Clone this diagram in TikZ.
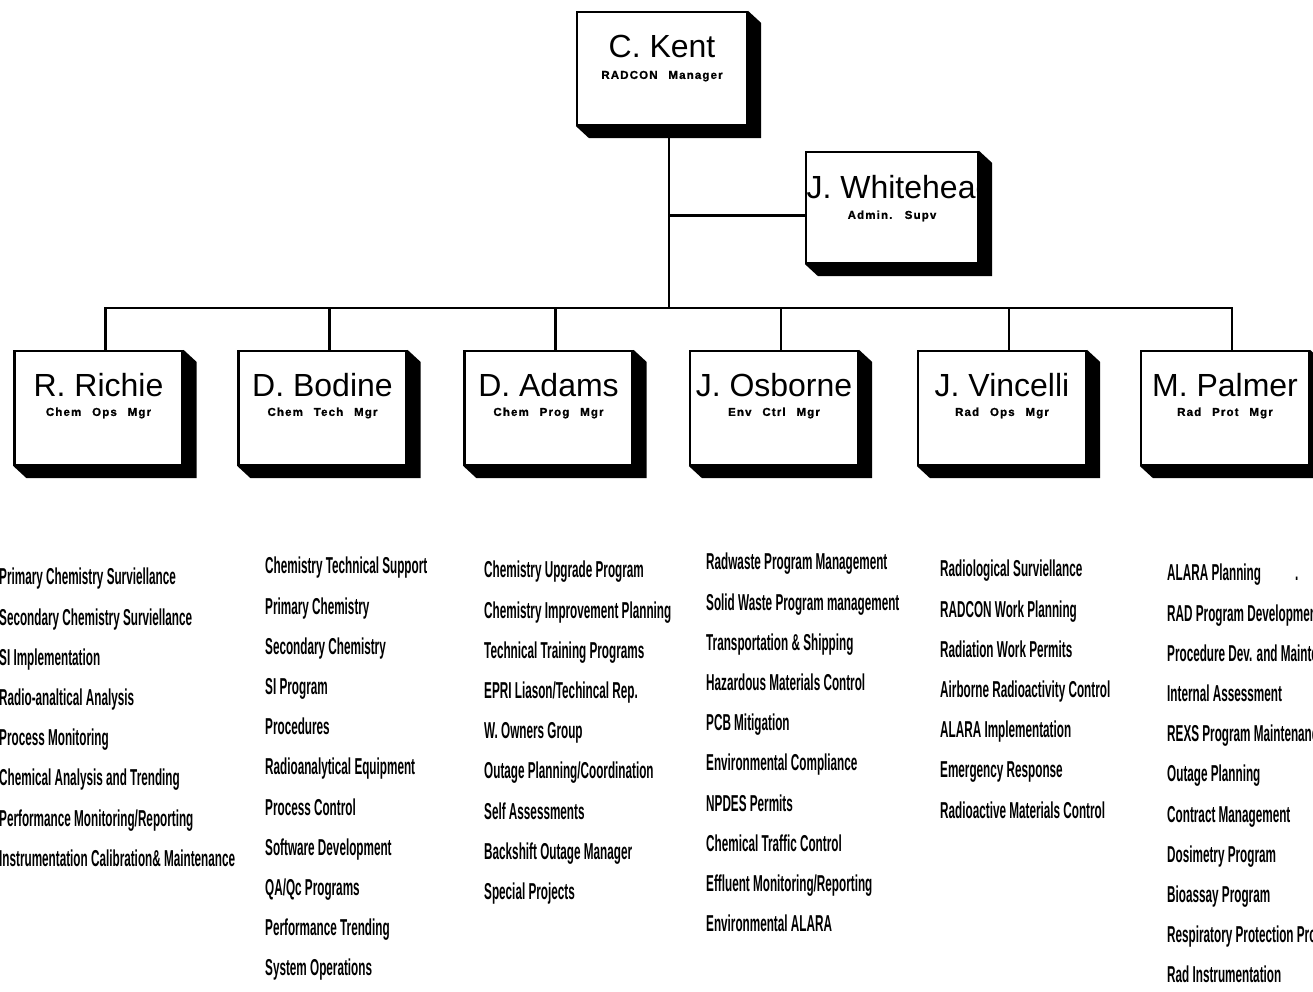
\documentclass[tikz,border=0pt]{standalone}
\usepackage{fontspec}
\setmainfont{Liberation Sans}
\newfontfamily\rolefont{Liberation Sans}[LetterSpace=10,WordSpace=2.5,FakeBold=1.2]
\newfontfamily\listfont{Liberation Sans}[FakeStretch=0.51]
\usetikzlibrary{positioning}
\tikzset{
    staffbox/.style={draw, fill=white, line width=2.2pt, minimum width=168pt, minimum height=114pt, inner sep=0pt},
    nametext/.style={anchor=base, inner sep=0pt, font=\fontsize{32}{36}\selectfont},
    roletext/.style={anchor=base, inner sep=0pt, font=\fontsize{11.5}{13}\rolefont\bfseries},
    duties/.style={anchor=north west, inner sep=0pt, align=left, font=\fontsize{23}{40.2}\listfont\bfseries},
    link/.style={line width=2.2pt},
    extrude/.style={fill=black}
}

\begin{document}
\begin{tikzpicture}[x=1pt, y=-1pt]
    \useasboundingbox (0,0) rectangle (1313,991);
    % manager and admin
    \node[staffbox, minimum width=170pt, minimum height=113pt] (kent) at (662,68.5) {};
    \node[nametext] (kent-name) at ([yshift=-47pt]kent.north) {C. Kent};
    \node[roletext] (kent-role) at ([yshift=-68pt]kent.north) {RADCON Manager};
    \node[staffbox, minimum width=172pt, minimum height=111pt] (whitehead) at (892,207.5) {};
    \node[nametext] (whitehead-name) at ([xshift=8pt, yshift=-48pt]whitehead.north) {J. Whitehead};
    \node[roletext] (whitehead-role) at ([yshift=-68pt]whitehead.north) {Admin. Supv};
    \coordinate (bus) at (669,308);
    \coordinate (wh-in) at ([yshift=-8pt]whitehead.west);
    \draw[link] (kent.south -| bus) -- (bus);
    \draw[link] (wh-in) -- (wh-in -| bus);
    % group leaders
    \foreach \id/\x/\who/\role in {richie/98.5/R. Richie/Chem Ops Mgr, bodine/322.5/D. Bodine/Chem Tech Mgr,
        adams/548.5/D. Adams/Chem Prog Mgr, osborne/774/J. Osborne/Env Ctrl Mgr,
        vincelli/1002/J. Vincelli/Rad Ops Mgr, palmer/1225/M. Palmer/Rad Prot Mgr}{
        \node[staffbox] (\id) at (\x,408) {};
        \node[nametext] (\id-name) at ([yshift=-47pt]\id.north) {\who};
        \node[roletext] (\id-role) at ([yshift=-66pt]\id.north) {\role};
        \coordinate (\id-top) at ([xshift=7pt]\id.north);
        \draw[link] (\id-top) -- (\id-top |- bus);
    }
    \draw[link] (richie-top) -- (richie-top |- bus) -- (palmer-top |- bus) -- (palmer-top);
    % 3d edges
    \foreach \b in {kent,whitehead,richie,bodine,adams,osborne,vincelli,palmer}
        \fill[extrude] (\b.north east) -- ([shift={(13,12)}]\b.north east) -- ([shift={(13,12)}]\b.south east)
            -- ([shift={(13,12)}]\b.south west) -- (\b.south west) -- (\b.south east) -- cycle;
    % duties
    \node[duties] (richie-duties) at (-1,568) {Primary Chemistry Surviellance\\Secondary Chemistry Surviellance\\SI Implementation\\Radio-analtical Analysis\\Process Monitoring\\Chemical Analysis and Trending\\Performance Monitoring/Reporting\\Instrumentation Calibration\& Maintenance};
    \node[duties] (bodine-duties) at (265,557) {Chemistry Technical Support\\Primary Chemistry\\Secondary Chemistry\\SI Program\\Procedures\\Radioanalytical Equipment\\Process Control\\Software Development\\QA/Qc Programs\\Performance Trending\\System Operations};
    \node[duties] (adams-duties) at (484,561) {Chemistry Upgrade Program\\Chemistry Improvement Planning\\Technical Training Programs\\EPRI Liason/Techincal Rep.\\W. Owners Group\\Outage Planning/Coordination\\Self Assessments\\Backshift Outage Manager\\Special Projects};
    \node[duties] (osborne-duties) at (706,553) {Radwaste Program Management\\Solid Waste Program management\\Transportation \& Shipping\\Hazardous Materials Control\\PCB Mitigation\\Environmental Compliance\\NPDES Permits\\Chemical Traffic Control\\Effluent Monitoring/Reporting\\Environmental ALARA};
    \node[duties] (vincelli-duties) at (940,560) {Radiological Surviellance\\RADCON Work Planning\\Radiation Work Permits\\Airborne Radioactivity Control\\ALARA Implementation\\Emergency Response\\Radioactive Materials Control};
    \node[duties] (palmer-duties) at (1167,564) {ALARA Planning\hspace{34pt}.\\RAD Program Development\\Procedure Dev. and Maintenance\\Internal Assessment\\REXS Program Maintenance\\Outage Planning\\Contract Management\\Dosimetry Program\\Bioassay Program\\Respiratory Protection Program\\Rad Instrumentation};
\end{tikzpicture}
\end{document}
